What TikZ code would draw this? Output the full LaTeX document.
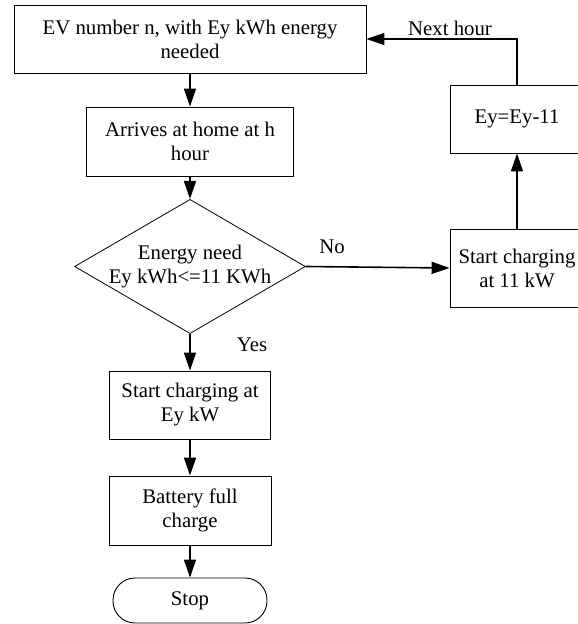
\documentclass[tikz,border=0pt]{standalone}
\usepackage{fontspec}
\setmainfont{Liberation Serif}
\usetikzlibrary{arrows.meta,shapes.geometric}

\begin{document}
\begin{tikzpicture}[x=1pt, y=-1pt,
        every node/.style={font=\fontsize{20.8}{24}\selectfont, align=center, inner sep=0pt},
        procbox/.style={draw, line width=0.9pt, rectangle, minimum height=68pt},
        decbox/.style={draw, line width=0.8pt, diamond, aspect=1.72, inner sep=-1pt},
        endbox/.style={draw, line width=0.9pt, rectangle, rounded corners=22pt, minimum width=154pt, minimum height=45pt},
        flow/.style={line width=1.6pt, -{Triangle[length=18pt, width=12pt]}}]
        \useasboundingbox (0,0) rectangle (578,624);

        % 左列
        \node[procbox, minimum width=352pt] (ev) at (190,39) {EV number n, with Ey kWh energy\\needed};
        \node[procbox, minimum width=207pt, minimum height=69pt] (arr) at (190,141.5) {Arrives at home at h\\hour};
        \node[decbox] (dec) at (190,266.5) {Energy need\\Ey kWh<=11 KWh};
        \node[procbox, minimum width=161pt] (ey) at (190,405) {Start charging at\\Ey kW};
        \node[procbox, minimum width=162pt, minimum height=69pt] (full) at (190,510.5) {Battery full\\charge};
        \node[endbox] (stop) at (190,600.5) {Stop};

        % 右列
        \node[procbox, minimum width=134pt, minimum height=78pt] (c11) at (517,268) {Start charging\\at 11 kW};
        \node[procbox, minimum width=134pt] (sub) at (517,119) {Ey=Ey-11};

        % 标注
        \node (yes) at (252,345) {Yes};
        \node (no) at (332,247) {No};
        \node (next) at (450,28) {Next hour};

        % 连线
        \draw[flow] (ev) -- (arr);
        \draw[flow] (arr) -- (dec);
        \draw[flow] (dec) -- (ey);
        \draw[flow] (ey) -- (full);
        \draw[flow] (full) -- (stop);
        \draw[flow] (dec.east) -- (c11.west);
        \draw[flow] (c11) -- (sub);
        \draw[flow, line width=1.3pt] (sub.north) |- (ev.east);
    \end{tikzpicture}
\end{document}
